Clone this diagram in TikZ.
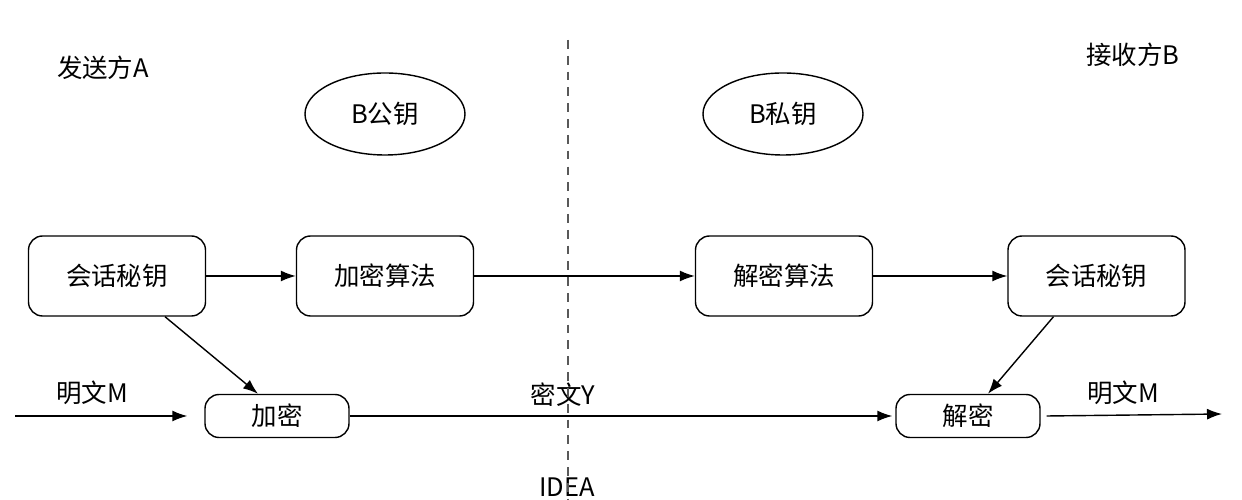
\documentclass[tikz,border=0pt]{standalone}
\usepackage{fontspec}
\setmainfont{Noto Sans CJK SC}
\usepackage{tikz}
\usetikzlibrary{arrows,arrows.meta,calc,positioning,shapes.geometric}

\begin{document}
\begin{tikzpicture}[>={Latex[length=3mm,width=2.2mm]},
  box/.style={draw,rounded corners=8pt,line width=0.8pt,minimum width=3.54cm,minimum height=1.6cm},
  smallbox/.style={draw,rounded corners=8pt,line width=0.8pt,minimum width=2.88cm,minimum height=0.86cm},
  keyell/.style={draw,ellipse,line width=0.8pt,minimum width=3.2cm,minimum height=1.64cm},
  flow/.style={->,line width=0.8pt},
  every node/.style={font=\fontsize{14.5}{17}\selectfont}]
\useasboundingbox (0cm,0cm) rectangle (24.84cm,-10cm);
\node (sendA) at (2.06cm,-1.36cm) {发送方A};
\node (recvB) at (22.66cm,-1.1cm) {接收方B};
\node[keyell] (pubkey) at (7.7cm,-2.28cm) {B公钥};
\node[keyell] (privkey) at (15.66cm,-2.28cm) {B私钥};
\node[box] (ksA) at (2.34cm,-5.52cm) {会话秘钥};
\node[box] (encalg) at (7.7cm,-5.52cm) {加密算法};
\node[box] (decalg) at (15.68cm,-5.52cm) {解密算法};
\node[box] (ksB) at (21.93cm,-5.52cm) {会话秘钥};
\node[smallbox] (enc) at (5.54cm,-8.32cm) {加密};
\node[smallbox] (dec) at (19.36cm,-8.32cm) {解密};
\coordinate (inM) at (0.3cm,-8.32cm);
\coordinate (outM) at (24.44cm,-8.28cm);
\coordinate (lineTop) at (11.36cm,-0.8cm);
\coordinate (lineBot) at (11.36cm,-10cm);
\node (mA) at (1.84cm,-7.86cm) {明文M};
\node (mB) at (22.46cm,-7.86cm) {明文M};
\node (cY) at (11.26cm,-7.9cm) {密文Y};
\node (idea) at (11.34cm,-9.74cm) {IDEA};
\draw[dashed,line width=0.8pt,gray!70!black,dash pattern=on 5pt off 4pt] (lineTop) -- (lineBot);
\draw[flow] (ksA) -- (encalg);
\draw[flow] (encalg) -- (decalg);
\draw[flow] (decalg) -- (ksB);
\draw[flow] ([xshift=0.96cm]ksA.south) -- ([xshift=-0.38cm]enc.north);
\draw[flow] ([xshift=-0.86cm]ksB.south) -- ([xshift=0.4cm]dec.north);
\draw[flow] (inM) -- ([xshift=-0.34cm]enc.west);
\draw[flow] (enc) -- ([xshift=-0.06cm]dec.west);
\draw[flow] ([xshift=0.12cm]dec.east) -- (outM);
\end{tikzpicture}
\end{document}
